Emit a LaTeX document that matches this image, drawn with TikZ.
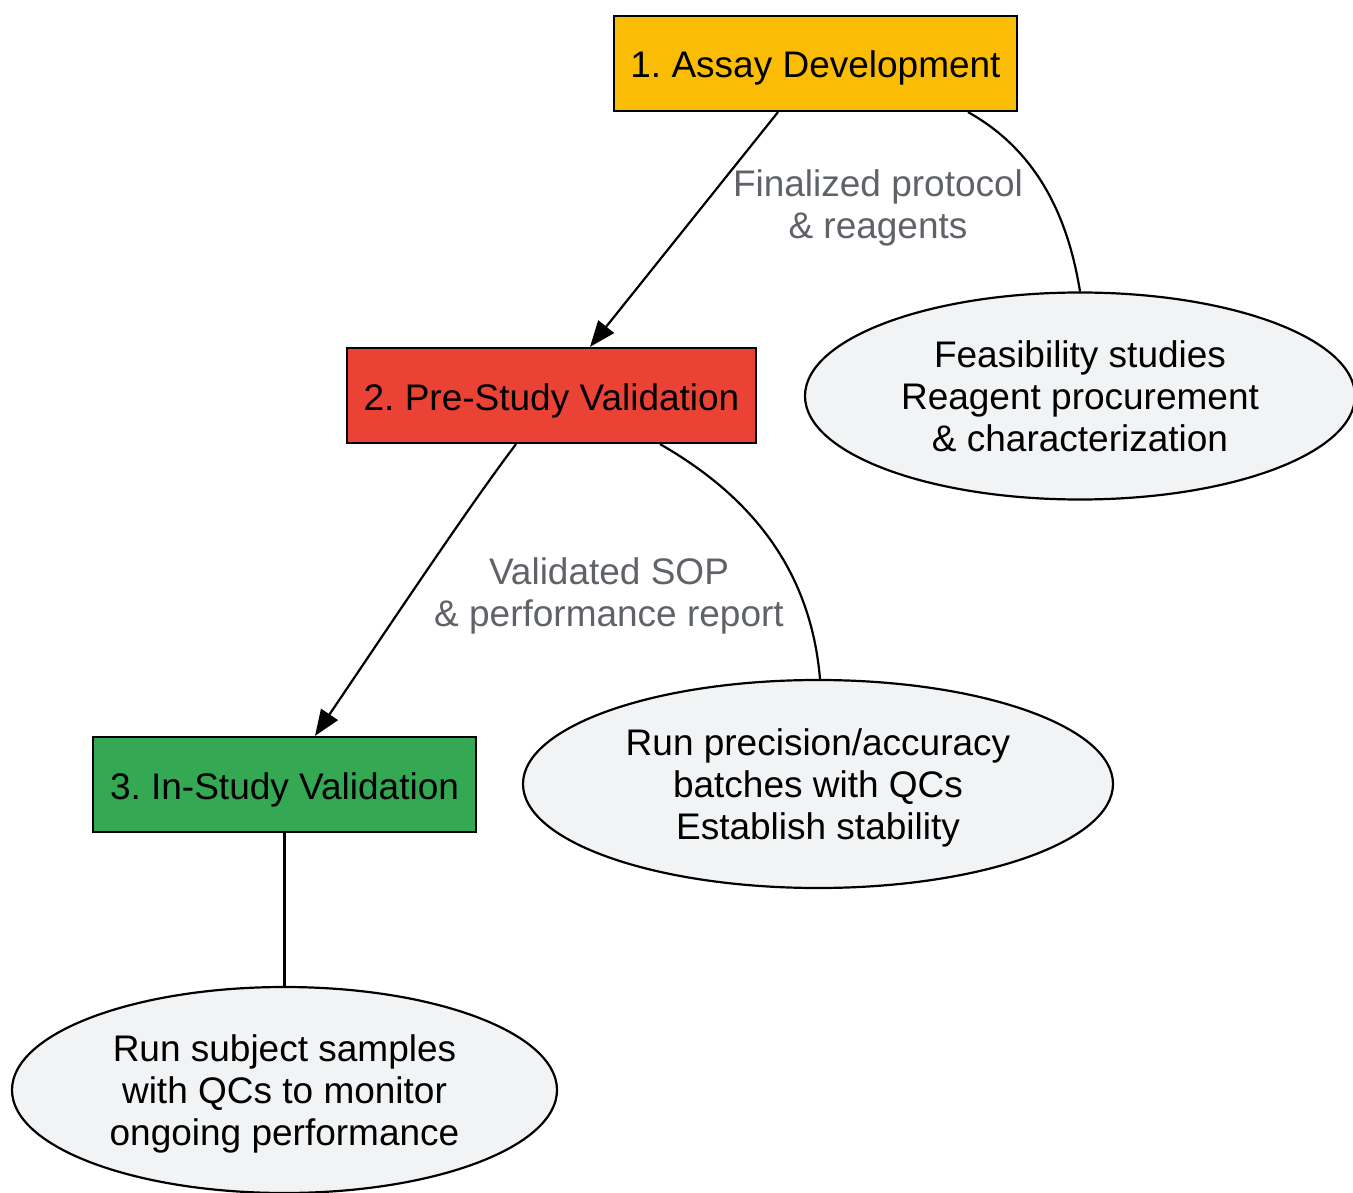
\documentclass[tikz,border=0pt]{standalone}
\usepackage{fontspec}
\setmainfont{Liberation Sans}
\usetikzlibrary{shapes.geometric,arrows.meta,calc}
\definecolor{cyellow}{HTML}{FBBC05}
\definecolor{cred}{HTML}{EA4335}
\definecolor{cgreen}{HTML}{34A853}
\definecolor{cgrayfill}{HTML}{F1F3F4}
\definecolor{clabel}{HTML}{5F6368}
\begin{document}
\frenchspacing
\begin{tikzpicture}[x=1pt,y=-1pt,
  txt/.style={font=\fontsize{37}{42}\selectfont\frenchspacing,align=center},
  stage/.style={txt,draw=black,line width=2.2pt,rectangle,inner sep=0pt,text height=29pt,text depth=0pt},
  detail/.style={txt,draw=black,line width=2.2pt,ellipse,fill=cgrayfill,inner sep=0pt,text depth=0pt},
  elabel/.style={txt,text=clabel,text depth=0pt},
  link/.style={line width=2.2pt},
  flow/.style={link,-{Triangle[length=26pt,width=20pt]}}
]
\useasboundingbox (0,0) rectangle (1353,1193);
\node[stage,fill=cyellow,minimum width=403,minimum height=95] (b1) at (815.5,63.5) {1. Assay Development};
\node[stage,fill=cred,minimum width=409,minimum height=95] (b2) at (551.5,395.5) {2. Pre-Study Validation};
\node[stage,fill=cgreen,minimum width=383,minimum height=95] (b3) at (284.5,784.5) {3. In-Study Validation};
\node[detail,minimum width=550,minimum height=207] (e1) at (1080,396) {Feasibility studies\\Reagent procurement\\\& characterization};
\node[detail,minimum width=590,minimum height=208] (e2) at (818,784) {Run precision/accuracy\\batches with QCs\\Establish stability};
\node[detail,minimum width=545,minimum height=206] (e3) at (284.5,1090) {Run subject samples\\with QCs to monitor\\ongoing performance};
\node[elabel] (l1) at (878,204) {Finalized protocol\\\& reagents};
\node[elabel] (l2) at (609,592) {Validated SOP\\\& performance report};
\draw[flow] ($(b1.south)+(-37.5,0)$) -- ($(b2.north)+(38.5,0)$);
\draw[link] ($(b1.south)+(152.5,0)$) .. controls (1045,155) and (1070,230) .. (e1.north);
\draw[flow] ($(b2.south)+(-35.5,0)$) .. controls (470,505) and (400,610) .. ($(b3.north)+(30.5,0)$);
\draw[link] ($(b2.south)+(108.5,0)$) .. controls (740,490) and (810,560) .. ($(e2.north)+(2,0)$);
\draw[link] (b3.south) -- (e3.north);
\end{tikzpicture}
\end{document}
